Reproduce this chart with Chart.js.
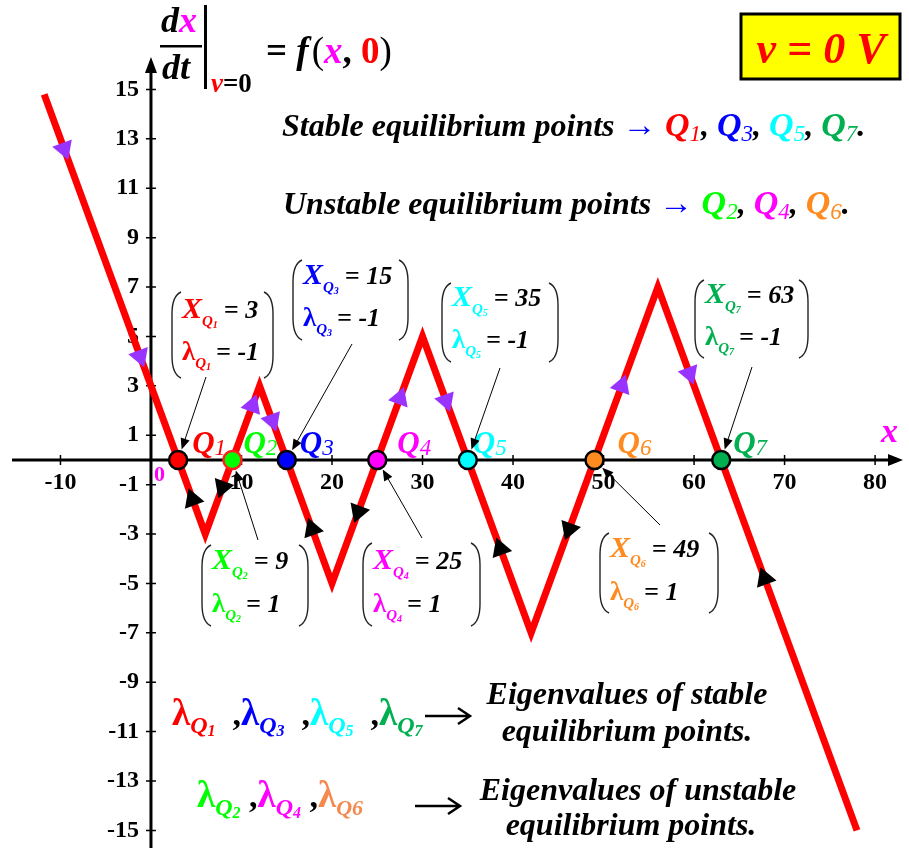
<!DOCTYPE html>
<html>
<head>
<meta charset="utf-8">
<title>Phase line f(x,0)</title>
<script src="https://cdn.jsdelivr.net/npm/chart.js@4.4.1/dist/chart.umd.min.js"></script>
<style>
  html, body { margin: 0; padding: 0; background: #fff; }
  #wrap { width: 909px; height: 848px; position: relative; }
</style>
</head>
<body>
<div id="wrap"><canvas id="phase"></canvas></div>
<script>
// vertices of the piecewise-linear curve dx/dt = f(x, 0)
const curveX = [-11.8, 6, 12, 20, 30, 42, 56, 78];
const curveY = [14.8, -3, 3, -5, 5, -7, 7, -15];

// equilibrium points (f = 0) and their eigenvalues
const eqNames = ['1', '2', '3', '4', '5', '6', '7'];
const eqX = [3, 9, 15, 25, 35, 49, 63];
const eqY = [0, 0, 0, 0, 0, 0, 0];
const eqLambda = ['-1', '1', '-1', '1', '-1', '1', '-1'];
const eqColors = ['#ff0000', '#00ff00', '#0000ff', '#ff00ff', '#00ffff', '#ff8a1f', '#00b050'];
const eqBorders = ['#000', '#ff2020', '#000', '#000', '#000', '#000', '#000'];

// flow markers sitting on the curve
const flowX = [-9.6, -1.2, 11.2, 13.4, 27.5, 32.6, 52, 59.5, 4.6, 7.9, 17.8, 22.9, 38.6, 46.2, 67.8];
const flowY = [12.6, 4.2, 2.2, 1.6, 2.5, 2.4, 3, 3.5, -1.6, -1.1, -2.8, -2.1, -3.6, -2.8, -4.8];

// axis ticks
const xTicks = [-10, 10, 20, 30, 40, 50, 60, 70, 80];
const yTicks = [-15, -13, -11, -9, -7, -5, -3, -1, 1, 3, 5, 7, 9, 11, 13, 15];

const SERIF = '"Liberation Serif", "Times New Roman", serif';
const font = (style, size) => `${style} ${size}px ${SERIF}`;
const PURPLE = '#9933ff';

// where the annotation brackets sit (pixels)
const boxes = [
  { l: 172, r: 273, t: 292, b: 378, y1: 318, y2: 360, from: [206, 377] },
  { l: 202, r: 308, t: 545, b: 626, y1: 569, y2: 612, from: [258, 540] },
  { l: 293, r: 408, t: 260, b: 340, y1: 284, y2: 326, from: [352, 344] },
  { l: 363, r: 480, t: 543, b: 626, y1: 569, y2: 612, from: [422, 538] },
  { l: 442, r: 558, t: 283, b: 362, y1: 306, y2: 348, from: [500, 368] },
  { l: 600, r: 718, t: 533, b: 613, y1: 557, y2: 600, from: [660, 525] },
  { l: 695, r: 808, t: 280, b: 358, y1: 303, y2: 345, from: [752, 367] }
];
const qLabelDx = [14, 11, 13, 20, 5, 23, 12];

function runs(ctx, x, y, parts) {
  parts.forEach(p => {
    ctx.font = p[1];
    ctx.fillStyle = p[2];
    ctx.fillText(p[0], x, y + (p[3] || 0));
    x += ctx.measureText(p[0]).width + (p[4] || 0);
  });
  return x;
}

function runsWidth(ctx, parts) {
  let w = 0;
  parts.forEach(p => { ctx.font = p[1]; w += ctx.measureText(p[0]).width + (p[4] || 0); });
  return w;
}

function paren(ctx, x, top, bot, dir) {
  ctx.beginPath();
  ctx.moveTo(x + dir * 9, top);
  ctx.quadraticCurveTo(x, top + 4, x, top + 22);
  ctx.lineTo(x, bot - 22);
  ctx.quadraticCurveTo(x, bot - 4, x + dir * 9, bot);
  ctx.stroke();
}

function arrowLine(ctx, x1, y1, x2, y2, head) {
  const a = Math.atan2(y2 - y1, x2 - x1);
  ctx.beginPath();
  ctx.moveTo(x1, y1);
  ctx.lineTo(x2 - Math.cos(a) * head * 0.8, y2 - Math.sin(a) * head * 0.8);
  ctx.stroke();
  ctx.beginPath();
  ctx.moveTo(x2, y2);
  ctx.lineTo(x2 - head * Math.cos(a - 0.4), y2 - head * Math.sin(a - 0.4));
  ctx.lineTo(x2 - head * Math.cos(a + 0.4), y2 - head * Math.sin(a + 0.4));
  ctx.closePath();
  ctx.fill();
}

function openArrow(ctx, x1, x2, y, color) {
  ctx.strokeStyle = color;
  ctx.lineWidth = 2.5;
  ctx.beginPath();
  ctx.moveTo(x1, y); ctx.lineTo(x2, y);
  ctx.moveTo(x2 - 12, y - 8); ctx.lineTo(x2, y); ctx.lineTo(x2 - 12, y + 8);
  ctx.stroke();
}

function segmentOf(x) {
  for (let k = 0; k < curveX.length - 1; k++) {
    if (x >= curveX[k] && x <= curveX[k + 1]) return k;
  }
  return curveX.length - 2;
}

const axesPlugin = {
  id: 'phaseAxes',
  beforeDatasetsDraw(chart) {
    const { ctx, scales: { x, y } } = chart;
    const x0 = x.getPixelForValue(0), y0 = y.getPixelForValue(0);
    ctx.save();
    ctx.strokeStyle = '#000';
    ctx.fillStyle = '#000';
    ctx.lineWidth = 3;
    ctx.beginPath();
    ctx.moveTo(12, y0); ctx.lineTo(892, y0);
    ctx.moveTo(x0, chart.height); ctx.lineTo(x0, 70);
    ctx.stroke();
    ctx.beginPath();
    ctx.moveTo(903, y0); ctx.lineTo(888, y0 - 6); ctx.lineTo(888, y0 + 6); ctx.closePath();
    ctx.moveTo(x0, 57); ctx.lineTo(x0 - 6, 73); ctx.lineTo(x0 + 6, 73); ctx.closePath();
    ctx.fill();
    ctx.lineWidth = 1.5;
    ctx.beginPath();
    xTicks.forEach(v => { const p = x.getPixelForValue(v); ctx.moveTo(p, y0 - 5); ctx.lineTo(p, y0 + 5); });
    yTicks.forEach(v => { const p = y.getPixelForValue(v); ctx.moveTo(x0 - 5, p); ctx.lineTo(x0 + 5, p); });
    ctx.stroke();
    ctx.restore();
  },
  afterDatasetsDraw(chart) {
    const { ctx, scales: { x, y } } = chart;
    const y0 = y.getPixelForValue(0);
    ctx.save();
    ctx.textBaseline = 'alphabetic';
    ctx.textAlign = 'left';

    // origin and axis name
    runs(ctx, x.getPixelForValue(0) + 3, y0 + 21, [['0', font('bold', 22), '#ff00ff']]);
    runs(ctx, 881, y0 - 18, [['x', font('italic bold', 34), '#ff00ff']]);

    // Q labels beside each equilibrium point
    eqX.forEach((v, i) => {
      const px = x.getPixelForValue(v) + qLabelDx[i];
      runs(ctx, px, y0 - 7, [
        ['Q', font('italic bold', 31), eqColors[i]],
        [eqNames[i], font('italic', 23), eqColors[i], 2]
      ]);
    });

    // bracketed value boxes with leader arrows
    eqX.forEach((v, i) => {
      const b = boxes[i], c = eqColors[i];
      ctx.strokeStyle = '#222';
      ctx.lineWidth = 1.4;
      paren(ctx, b.l, b.t, b.b, 1);
      paren(ctx, b.r, b.t, b.b, -1);
      let xe = runs(ctx, b.l + 10, b.y1, [
        ['X', font('italic bold', 30), c],
        ['Q', font('italic bold', 15), c, 8],
        [eqNames[i], font('italic bold', 10), c, 10]
      ]);
      runs(ctx, xe + 6, b.y1, [['= ' + v, font('italic bold', 26), '#000']]);
      xe = runs(ctx, b.l + 10, b.y2, [
        ['λ', font('bold', 27), c],
        ['Q', font('italic bold', 15), c, 8],
        [eqNames[i], font('italic bold', 10), c, 10]
      ]);
      runs(ctx, xe + 5, b.y2, [['= ' + eqLambda[i], font('italic bold', 26), '#000']]);

      const px = x.getPixelForValue(v), py = y.getPixelForValue(eqY[i]);
      const [fx, fy] = b.from;
      const d = Math.hypot(px - fx, py - fy);
      ctx.strokeStyle = '#000';
      ctx.fillStyle = '#000';
      ctx.lineWidth = 1;
      arrowLine(ctx, fx, fy, px + (fx - px) / d * 11, py + (fy - py) / d * 11, 12);
    });

    // formula in the top-left corner
    runs(ctx, 161, 32, [['d', font('italic bold', 36), '#000'], ['x', font('italic bold', 36), '#ff00ff']]);
    ctx.fillStyle = '#000';
    ctx.fillRect(160, 45, 42, 2.5);
    runs(ctx, 162, 79, [['dt', font('italic bold', 36), '#000']]);
    ctx.fillStyle = '#000';
    ctx.fillRect(204, 5, 3, 84);
    runs(ctx, 211, 92, [['v', font('italic bold', 27), '#ff0000'], ['=0', font('bold', 27), '#000']]);
    runs(ctx, 266, 63, [
      ['= ', font('bold', 37), '#000'],
      ['f', font('italic bold', 37), '#000', 0, 3],
      ['(', font('normal', 37), '#000'],
      ['x', font('italic bold', 37), '#ff00ff'],
      [', ', font('bold', 37), '#000'],
      ['0', font('bold', 37), '#ff0000'],
      [')', font('normal', 37), '#000']
    ]);

    // bias voltage tag
    ctx.fillStyle = '#ffff00';
    ctx.fillRect(741, 14, 159, 65);
    ctx.strokeStyle = '#000';
    ctx.lineWidth = 3;
    ctx.strokeRect(741, 14, 159, 65);
    const tag = [['v = 0 V', font('italic bold', 44), '#ff0000']];
    runs(ctx, 821 - runsWidth(ctx, tag) / 2, 63, tag);

    // classification lines
    const big = font('italic bold', 32);
    const qs = (n, c) => [['Q', font('italic bold', 34), c], [n, font('italic', 23), c, 5]];
    runs(ctx, 282, 136, [
      ['Stable equilibrium points ', big, '#000'],
      ['→ ', font('normal', 34), '#0000ff'],
      ...qs('1', '#ff0000'), [', ', big, '#000'],
      ...qs('3', '#0000ff'), [', ', big, '#000'],
      ...qs('5', '#00ffff'), [', ', big, '#000'],
      ...qs('7', '#00b050'), ['.', big, '#000']
    ]);
    runs(ctx, 283, 214, [
      ['Unstable equilibrium points ', big, '#000'],
      ['→ ', font('normal', 34), '#0000ff'],
      ...qs('2', '#00ff00'), [', ', big, '#000'],
      ...qs('4', '#ff00ff'), [', ', big, '#000'],
      ...qs('6', '#ff8a1f'), ['.', big, '#000']
    ]);

    // eigenvalue legend at the bottom
    const lam = (n, c) => [
      ['λ', font('bold', 37), c],
      ['Q', font('italic bold', 24), c, 8],
      [n, font('italic bold', 16), c, 11]
    ];
    const comma = ['  ,', font('bold', 34), '#000'];
    const comma2 = [' ,', font('bold', 34), '#000'];
    runs(ctx, 172, 725, [
      ...lam('1', '#ff0000'), comma,
      ...lam('3', '#0000ff'), comma,
      ...lam('5', '#00ffff'), comma,
      ...lam('7', '#00b050')
    ]);
    openArrow(ctx, 425, 470, 716, '#000');
    const ev1 = [['Eigenvalues of stable', big, '#000']];
    runs(ctx, 627 - runsWidth(ctx, ev1) / 2, 704, ev1);
    const ep = [['equilibrium points.', big, '#000']];
    runs(ctx, 627 - runsWidth(ctx, ep) / 2, 741, ep);

    runs(ctx, 197, 807, [
      ...lam('2', '#00ff00'), comma2,
      ...lam('4', '#ff00ff'), comma2,
      ['λ', font('bold', 37), '#f58a4e'],
      ['Q6', font('italic bold', 22), '#f58a4e', 8]
    ]);
    openArrow(ctx, 415, 460, 806, '#000');
    const ev2 = [['Eigenvalues of unstable', big, '#000']];
    runs(ctx, 638 - runsWidth(ctx, ev2) / 2, 800, ev2);
    runs(ctx, 631 - runsWidth(ctx, ep) / 2, 835, ep);

    ctx.restore();
  }
};

const ctx = document.getElementById('phase').getContext('2d');
new Chart(ctx, {
  type: 'scatter',
  data: {
    datasets: [
      {
        label: 'flow',
        data: flowX.map((v, i) => ({ x: v, y: flowY[i] })),
        pointStyle: 'triangle',
        pointRadius: 12,
        pointBorderWidth: 0,
        pointBackgroundColor: flowY.map(v => v > 0 ? PURPLE : '#000'),
        rotation: c => {
          if (c.dataIndex === undefined) return 0;
          const sx = c.chart.scales.x, sy = c.chart.scales.y;
          const k = segmentOf(flowX[c.dataIndex]);
          const dx = sx.getPixelForValue(curveX[k + 1]) - sx.getPixelForValue(curveX[k]);
          const dy = sy.getPixelForValue(curveY[k + 1]) - sy.getPixelForValue(curveY[k]);
          const s = flowY[c.dataIndex] > 0 ? 1 : -1;
          return Math.atan2(dx * s, -dy * s) * 180 / Math.PI;
        }
      },
      {
        label: 'equilibria',
        data: eqX.map((v, i) => ({ x: v, y: eqY[i] })),
        pointRadius: 9,
        pointBorderWidth: 2.5,
        pointBackgroundColor: eqColors,
        pointBorderColor: eqBorders
      },
      {
        label: 'f(x,0)',
        data: curveX.map((v, i) => ({ x: v, y: curveY[i] })),
        showLine: true,
        clip: false,
        borderColor: '#ff0000',
        borderWidth: 7,
        pointRadius: 0,
        tension: 0,
        borderJoinStyle: 'miter',
        borderCapStyle: 'butt'
      }
    ]
  },
  options: {
    responsive: true,
    maintainAspectRatio: false,
    devicePixelRatio: 1,
    animation: false,
    layout: { padding: { left: 20, right: 14, top: 26, bottom: 26 } },
    plugins: { legend: { display: false }, tooltip: { enabled: false } },
    scales: {
      x: {
        type: 'linear',
        min: -14.47,
        max: 82.2,
        position: { y: 0 },
        afterBuildTicks: s => { s.ticks = xTicks.map(v => ({ value: v })); },
        grid: { display: false, drawTicks: false },
        border: { display: false },
        ticks: { color: '#000', font: { family: SERIF, size: 24, weight: 'bold' }, padding: 8 }
      },
      y: {
        type: 'linear',
        min: -14.66,
        max: 17.57,
        position: { x: 0 },
        afterBuildTicks: s => { s.ticks = yTicks.map(v => ({ value: v })); },
        grid: { display: false, drawTicks: false },
        border: { display: false },
        ticks: {
          color: '#000',
          font: { family: SERIF, size: 24, weight: 'bold' },
          callback: v => v + '\u2002'
        }
      }
    }
  },
  plugins: [axesPlugin]
});
</script>
</body>
</html>
